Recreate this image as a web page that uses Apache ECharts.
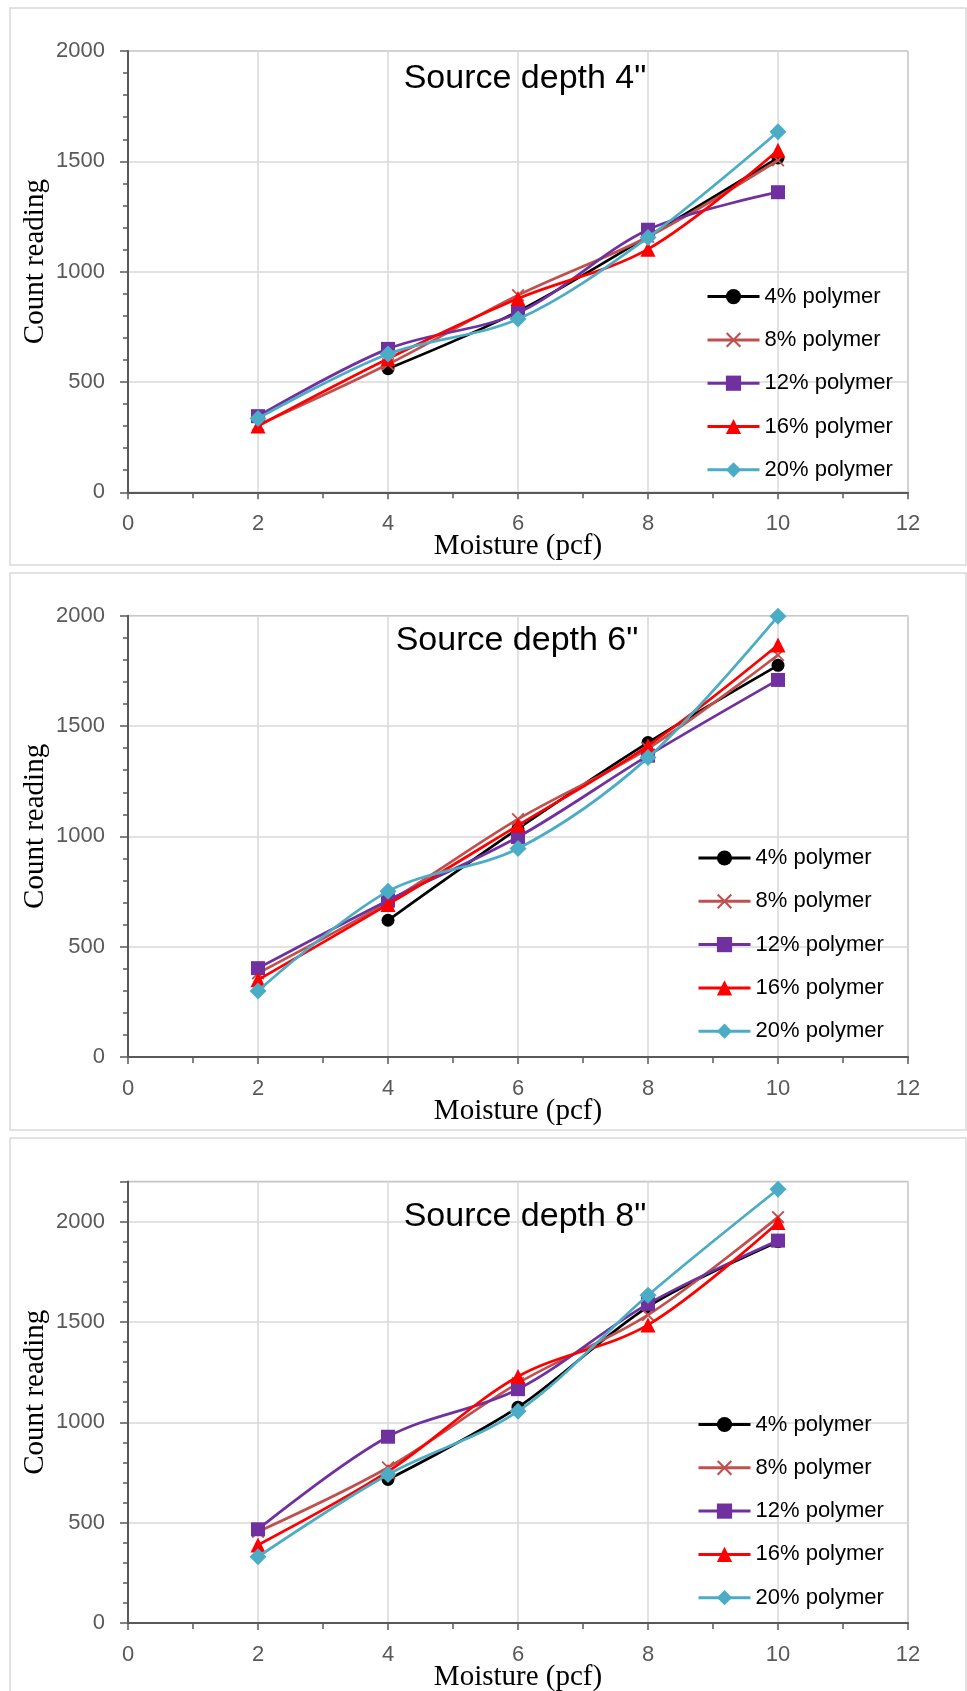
<!DOCTYPE html>
<html>
<head>
<meta charset="utf-8">
<script src="https://cdn.jsdelivr.net/npm/echarts@6/dist/echarts.min.js"></script>
<style>
  html, body { margin: 0; padding: 0; background: #ffffff; }
  #chart { width: 967px; height: 1691px; }
</style>
</head>
<body>
<div id="chart"></div>
<script>
// Moisture content (pcf) at which the counts were taken
const moisture = [2, 4, 6, 8, 10];

const polymerNames = ['4% polymer', '8% polymer', '12% polymer', '16% polymer', '20% polymer'];
const panelTitles = ['Source depth 4"', 'Source depth 6"', 'Source depth 8"'];
const yMaxByPanel = [2000, 2000, 2200];

// Source depth 4"
const depth4_p4 = [null, 560, 820, 1160, 1515];
const depth4_p8 = [305, 580, 893, 1158, 1505];
const depth4_p12 = [345, 650, 813, 1190, 1360];
const depth4_p16 = [300, 605, 878, 1102, 1550];
const depth4_p20 = [335, 627, 785, 1155, 1634];

// Source depth 6"
const depth6_p4 = [null, 620, 1035, 1425, 1775];
const depth6_p8 = [380, 702, 1078, 1398, 1822];
const depth6_p12 = [403, 710, 997, 1366, 1709];
const depth6_p16 = [350, 692, 1050, 1411, 1867];
const depth6_p20 = [300, 751, 945, 1357, 1998];

// Source depth 8"
const depth8_p4 = [null, 715, 1075, 1575, 1900];
const depth8_p8 = [455, 775, 1195, 1535, 2022];
const depth8_p12 = [467, 928, 1165, 1590, 1905];
const depth8_p16 = [389, 755, 1228, 1485, 1995];
const depth8_p20 = [330, 740, 1055, 1633, 2161];

const panels = [
  [depth4_p4, depth4_p8, depth4_p12, depth4_p16, depth4_p20],
  [depth6_p4, depth6_p8, depth6_p12, depth6_p16, depth6_p20],
  [depth8_p4, depth8_p8, depth8_p12, depth8_p16, depth8_p20]
];

// ---- styling ----
const SANS = '"Liberation Sans", Arial, sans-serif';
const SERIF = '"Liberation Serif", "Times New Roman", serif';
const colors = ['#000000', '#C0504D', '#7030A0', '#FF0000', '#4BACC6'];
const crossPath = 'path://M1,0L5,4L9,0L10,1L6,5L10,9L9,10L5,6L1,10L0,9L4,5L0,1Z';
const symbols = ['circle', crossPath, 'rect', 'triangle', 'diamond'];
const symbolSizes = [13, 13, 14, 15, 17];

const gridBoxes = [
  { left: 128, top: 51, width: 780, height: 441.3 },
  { left: 128, top: 615.7, width: 780, height: 441.4 },
  { left: 128, top: 1181.4, width: 780, height: 441.6 }
];
const frameBoxes = [
  { y: 8, h: 557 },
  { y: 573, h: 557 },
  { y: 1138, h: 570 }
];
const titlePos = [[525, 79], [517, 640.5], [525, 1216.6]];
const legendPos = [[706, 285.6], [697, 847], [697, 1413.5]];

const grid = [], xAxis = [], yAxis = [], series = [], legend = [], graphic = [];

gridBoxes.forEach((g, p) => {
  grid.push(Object.assign({ show: true, borderColor: '#7f7f7f', borderWidth: 1, backgroundColor: 'transparent' }, g));

  // main x axis: labels, gridlines, outward major ticks
  xAxis.push({
    type: 'value', gridIndex: p, min: 0, max: 12, interval: 2,
    axisLine: { lineStyle: { color: '#595959', width: 2 } },
    axisTick: { show: true, inside: false, length: 7, lineStyle: { color: '#595959', width: 1.5 } },
    axisLabel: { color: '#595959', fontSize: 22, fontFamily: SANS, margin: 21 },
    splitLine: { show: true, lineStyle: { color: '#d9d9d9', width: 1.5 } }
  });
  // companion x axis: inward ticks at every unit
  xAxis.push({
    type: 'value', gridIndex: p, min: 0, max: 12, interval: 1,
    axisLine: { show: false },
    axisTick: { show: true, inside: true, length: 6, lineStyle: { color: '#595959', width: 1.5 } },
    axisLabel: { show: false },
    splitLine: { show: false }
  });

  const yMax = yMaxByPanel[p];
  yAxis.push({
    type: 'value', gridIndex: p, min: 0, max: yMax, interval: 500,
    axisLine: { show: true, lineStyle: { color: '#595959', width: 2 } },
    axisTick: { show: true, inside: false, length: 8, lineStyle: { color: '#595959', width: 1.5 } },
    axisLabel: {
      color: '#595959', fontSize: 22, fontFamily: SANS, margin: 23,
      formatter: v => (v % 500 === 0 ? String(v) : '')
    },
    splitLine: { show: true, lineStyle: { color: '#d9d9d9', width: 1.5 } }
  });
  yAxis.push({
    type: 'value', gridIndex: p, min: 0, max: yMax, interval: 100,
    axisLine: { show: false },
    axisTick: { show: true, inside: true, length: 5, lineStyle: { color: '#595959', width: 1.5 } },
    axisLabel: { show: false },
    splitLine: { show: false }
  });

  panels[p].forEach((vals, s) => {
    series.push({
      name: polymerNames[s],
      type: 'line',
      xAxisIndex: p * 2,
      yAxisIndex: p * 2,
      smooth: 0.33,
      symbol: symbols[s],
      symbolSize: symbolSizes[s],
      showSymbol: true,
      lineStyle: { color: colors[s], width: 2.75 },
      itemStyle: { color: colors[s], borderColor: colors[s], borderWidth: 0 },
      emphasis: { disabled: true },
      z: 3 + s,
      data: moisture.map((m, i) => [m, vals[i]])
    });
  });

  legend.push({
    data: polymerNames.slice(),
    orient: 'vertical',
    left: legendPos[p][0],
    top: legendPos[p][1],
    itemWidth: 52,
    itemHeight: 19,
    itemGap: 21.3,
    padding: 0,
    lineStyle: { width: 3 },
    textStyle: { color: '#000000', fontSize: 22, lineHeight: 22, fontFamily: SANS },
    selectedMode: false
  });

  // panel frame
  graphic.push({
    type: 'rect', z: -10, silent: true,
    shape: { x: 10, y: frameBoxes[p].y, width: 956, height: frameBoxes[p].h },
    style: { fill: '#ffffff', stroke: '#d9d9d9', lineWidth: 1.5 }
  });
  // panel title
  graphic.push({
    type: 'text', x: titlePos[p][0], y: titlePos[p][1], z: 10, silent: true,
    style: { text: panelTitles[p], fontSize: 34, fontFamily: SANS, fill: '#000000', align: 'center', verticalAlign: 'middle' }
  });
  // axis titles
  const plotBottom = g.top + g.height;
  graphic.push({
    type: 'text', x: 518, y: plotBottom + 54, z: 10, silent: true,
    style: { text: 'Moisture (pcf)', fontSize: 29, fontFamily: SERIF, fill: '#000000', align: 'center', verticalAlign: 'middle' }
  });
  graphic.push({
    type: 'text', x: 35, y: g.top + g.height / 2 - 10, rotation: Math.PI / 2, z: 10, silent: true,
    style: { text: 'Count reading', fontSize: 29, fontFamily: SERIF, fill: '#000000', align: 'center', verticalAlign: 'middle' }
  });
});

const chart = echarts.init(document.getElementById('chart'), null, { renderer: 'canvas' });
chart.setOption({
  backgroundColor: '#ffffff',
  animation: false,
  grid, xAxis, yAxis, series, legend, graphic
});
</script>
</body>
</html>
